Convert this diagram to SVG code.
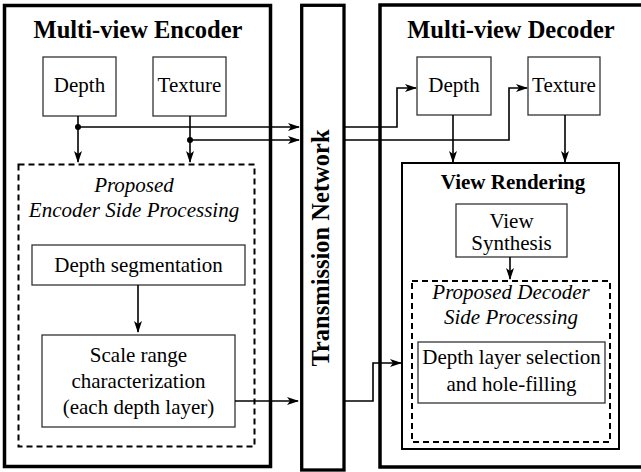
<svg xmlns="http://www.w3.org/2000/svg" width="641" height="472" viewBox="0 0 641 472">
<defs>
<marker id="ah" markerWidth="12" markerHeight="10" refX="11" refY="4" orient="auto" markerUnits="userSpaceOnUse">
<path d="M0,0 L12,4 L0,8 L3,4 z" fill="#000"/>
</marker>
<style>
.outer{fill:#fff;stroke:#000;stroke-width:3.5}
.node{fill:#fff;stroke:#333;stroke-width:1.3}
.mid{fill:none;stroke:#000;stroke-width:2}
.dash{fill:none;stroke:#000;stroke-width:2;stroke-dasharray:6,4}
.t{font-family:"Liberation Serif","Times New Roman",serif;font-size:21px;fill:#000;text-anchor:middle}
.b{font-weight:bold}
.i{font-style:italic}
.title{font-size:24.5px;font-weight:bold}
.tn{font-size:24.5px;font-weight:bold}
.c{fill:none;stroke:#000;stroke-width:1.6}
</style>
</defs>
<rect width="641" height="472" fill="#fff"/>
<g id="encoder">
<rect class="outer" x="4.5" y="5.5" width="266" height="461"/>
<text class="t title" x="138" y="38">Multi-view Encoder</text>
</g>
<g id="enc-proposed">
<rect class="dash" x="18.5" y="164.5" width="236" height="282"/>
<text class="t i" x="134" y="192">Proposed</text>
<text class="t i" x="134" y="217">Encoder Side Processing</text>
</g>
<g id="enc-depth">
<rect class="node" x="43" y="57" width="73" height="59"/>
<text class="t" x="79.5" y="92">Depth</text>
</g>
<g id="enc-texture">
<rect class="node" x="153" y="57" width="73" height="59"/>
<text class="t" x="189.5" y="92">Texture</text>
</g>
<g id="depth-seg">
<rect class="node" x="32" y="245" width="213" height="40"/>
<text class="t" x="138.5" y="272">Depth segmentation</text>
</g>
<g id="scale-range">
<rect class="node" x="42" y="335" width="193" height="92"/>
<text class="t" x="138.5" y="362">Scale range</text>
<text class="t" x="138.5" y="388">characterization</text>
<text class="t" x="138.5" y="414">(each depth layer)</text>
</g>
<g id="transmission">
<rect class="outer" x="301.7" y="5.3" width="42.3" height="464.7" style="stroke-width:3.3"/>
<text class="t tn" x="0" y="0" transform="translate(329,248) rotate(-90)">Transmission Network</text>
</g>
<g id="decoder">
<rect class="outer" x="380" y="5" width="265" height="462"/>
<text class="t title" x="511" y="38">Multi-view Decoder</text>
</g>
<g id="dec-depth">
<rect class="node" x="417" y="57" width="74" height="58"/>
<text class="t" x="454" y="92">Depth</text>
</g>
<g id="dec-texture">
<rect class="node" x="528" y="57" width="72" height="58"/>
<text class="t" x="564" y="92">Texture</text>
</g>
<g id="view-rendering">
<rect class="mid" x="402" y="163" width="217" height="286"/>
<text class="t b" x="513" y="189">View Rendering</text>
</g>
<g id="view-synthesis">
<rect class="node" x="456" y="204" width="111" height="53"/>
<text class="t" x="511.5" y="228">View</text>
<text class="t" x="511.5" y="250">Synthesis</text>
</g>
<g id="dec-proposed">
<rect class="dash" x="412" y="281" width="198" height="161"/>
<text class="t i" x="511" y="299">Proposed Decoder</text>
<text class="t i" x="511" y="324">Side Processing</text>
</g>
<g id="layer-select">
<rect class="node" x="418" y="342" width="187" height="61"/>
<text class="t" x="511.5" y="364">Depth layer selection</text>
<text class="t" x="511.5" y="391">and hole-filling</text>
</g>
<g id="connectors">
<path class="c" d="M78,116 V162" marker-end="url(#ah)"/>
<path class="c" d="M190,116 V162" marker-end="url(#ah)"/>
<path class="c" d="M78,127 H299" marker-end="url(#ah)"/>
<path class="c" d="M190,140 H299" marker-end="url(#ah)"/>
<circle cx="78" cy="127" r="3" fill="#000"/>
<circle cx="190" cy="140" r="3" fill="#000"/>
<path class="c" d="M138,285 V332" marker-end="url(#ah)"/>
<path class="c" d="M235,401 H298" marker-end="url(#ah)"/>
<path class="c" d="M344,127 H397 V88 H416" marker-end="url(#ah)"/>
<path class="c" d="M344,140 H509 V88 H527" marker-end="url(#ah)"/>
<path class="c" d="M453,115 V162" marker-end="url(#ah)"/>
<path class="c" d="M565,115 V162" marker-end="url(#ah)"/>
<path class="c" d="M510,257 V279" marker-end="url(#ah)"/>
<path class="c" d="M344,401 H373 V363 H401" marker-end="url(#ah)"/>
</g>
</svg>
